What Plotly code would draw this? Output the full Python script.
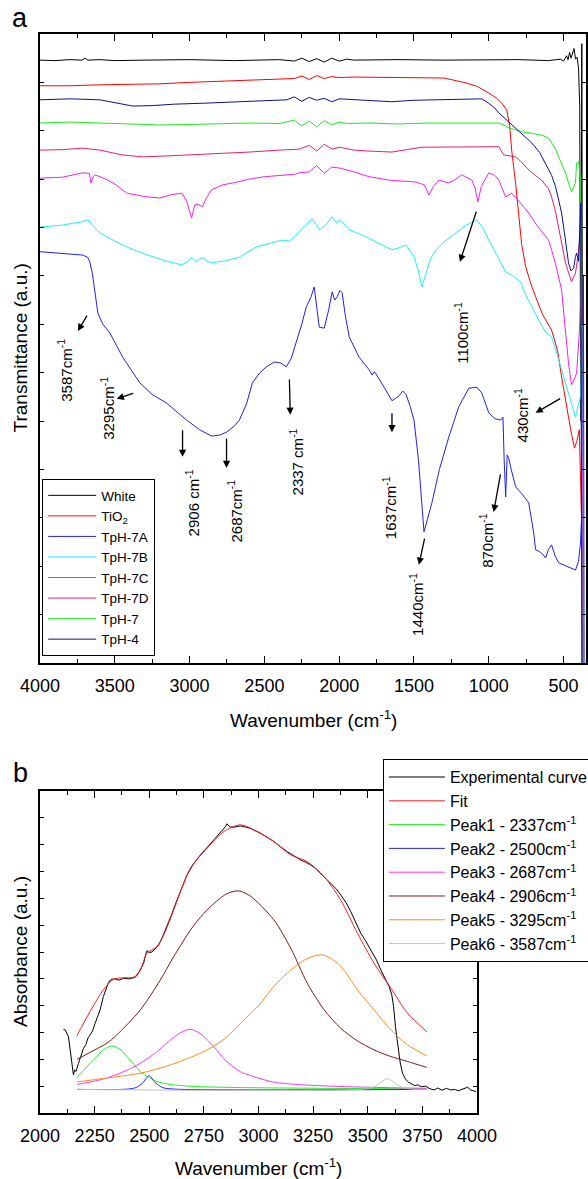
import plotly.graph_objects as go

FONT = "Arial, Liberation Sans, sans-serif"

# ---------------- Panel a : FTIR transmittance (stacked, a.u.) ----------------
WHITE = [(4000, 12.46), (3900, 12.45), (3800, 12.47), (3720, 12.46), (3700, 12.50), (3680, 12.46),
         (3600, 12.47), (3500, 12.45), (3300, 12.46), (3000, 12.47), (2700, 12.45), (2400, 12.47),
         (2300, 12.44), (2250, 12.50), (2200, 12.43), (2150, 12.49), (2100, 12.42), (2050, 12.50),
         (2000, 12.44), (1950, 12.48), (1900, 12.46), (1600, 12.47), (1300, 12.46), (1000, 12.46),
         (800, 12.47), (600, 12.45), (520, 12.48), (500, 12.44), (480, 12.55), (470, 12.47),
         (460, 12.62), (450, 12.50), (440, 12.58), (430, 12.70), (420, 12.48), (410, 12.52),
         (400, 12.30), (392, 11.5), (385, 5.0), (378, 12.8), (370, 0.0), (362, -0.5)]
TIO2 = [(4000, 11.93), (3800, 11.93), (3600, 11.95), (3400, 11.96), (3200, 11.97), (3000, 12.00),
        (2800, 12.02), (2600, 12.04), (2400, 12.06), (2300, 12.08), (2250, 12.13), (2200, 12.06),
        (2150, 12.14), (2100, 12.08), (2050, 12.12), (2000, 12.10), (1900, 12.11), (1700, 12.10),
        (1500, 12.10), (1300, 12.09), (1153, 11.99), (1080, 11.92), (1000, 11.78), (950, 11.68),
        (913, 11.57), (880, 11.43), (860, 11.10), (847, 10.60), (820, 9.90), (800, 9.22),
        (780, 8.65), (753, 8.19), (720, 7.85), (687, 7.57), (640, 7.20), (580, 6.88), (540, 6.45),
        (513, 5.91), (490, 5.45), (467, 5.08), (445, 4.70), (427, 4.44), (410, 4.60), (395, 4.82),
        (380, 3.0), (372, -1.0)]
TPH4 = [(4000, 11.64), (3800, 11.66), (3600, 11.64), (3500, 11.58), (3380, 11.51), (3250, 11.52),
        (3100, 11.55), (2900, 11.57), (2700, 11.60), (2500, 11.62), (2350, 11.64), (2300, 11.70),
        (2250, 11.61), (2200, 11.69), (2150, 11.63), (2100, 11.67), (2050, 11.60), (2000, 11.66),
        (1900, 11.64), (1800, 11.63), (1650, 11.60), (1500, 11.63), (1300, 11.64), (1150, 11.65),
        (1047, 11.66), (1000, 11.57), (960, 11.47), (933, 11.37), (880, 11.22), (820, 11.06),
        (760, 10.90), (713, 10.75), (660, 10.55), (620, 10.33), (580, 10.08), (553, 9.84),
        (533, 9.60), (513, 9.30), (490, 8.80), (467, 8.27), (450, 8.10), (433, 8.16), (420, 8.40),
        (413, 8.47), (400, 8.30), (385, 9.5), (376, -1.0)]
TPH7 = [(4000, 11.16), (3800, 11.18), (3600, 11.16), (3400, 11.14), (3200, 11.12), (3000, 11.13),
        (2800, 11.15), (2600, 11.16), (2400, 11.15), (2300, 11.22), (2250, 11.10), (2200, 11.20),
        (2150, 11.08), (2100, 11.21), (2050, 11.12), (2000, 11.18), (1950, 11.15), (1800, 11.16),
        (1600, 11.14), (1400, 11.16), (1200, 11.16), (1000, 11.16), (933, 11.16), (900, 11.12),
        (867, 11.06), (820, 11.02), (780, 10.98), (700, 10.94), (647, 10.91), (600, 10.85),
        (580, 10.75), (553, 10.62), (533, 10.46), (510, 10.30), (487, 10.13), (465, 9.90),
        (447, 9.74), (430, 9.85), (420, 9.94), (413, 10.33), (400, 10.35), (385, 10.0), (376, -1.0)]
TPH7D = [(4000, 10.60), (3850, 10.61), (3713, 10.64), (3600, 10.60), (3450, 10.50), (3313, 10.46),
         (3150, 10.48), (3000, 10.50), (2800, 10.53), (2600, 10.56), (2400, 10.60), (2267, 10.62),
         (2200, 10.70), (2150, 10.58), (2100, 10.72), (2047, 10.62), (2000, 10.66), (1900, 10.60),
         (1800, 10.58), (1647, 10.56), (1447, 10.66), (1200, 10.67), (1000, 10.67), (933, 10.67),
         (900, 10.50), (870, 10.48), (820, 10.46), (780, 10.35), (733, 10.19), (690, 10.08),
         (647, 9.98), (600, 9.80), (580, 9.63), (555, 9.35), (533, 9.01), (510, 8.65), (487, 8.27),
         (465, 8.05), (447, 7.88), (420, 8.06), (400, 8.5), (385, 9.0), (376, -1.0)]
TPH7C = [(4000, 10.02), (3850, 10.04), (3713, 10.13), (3670, 10.12), (3660, 9.92), (3645, 10.05),
         (3633, 10.09), (3560, 10.00), (3500, 9.90), (3420, 9.71), (3300, 9.64), (3200, 9.61),
         (3120, 9.68), (3053, 9.71), (3020, 9.55), (2987, 9.20), (2965, 9.47), (2945, 9.48),
         (2913, 9.43), (2890, 9.60), (2853, 9.78), (2780, 9.88), (2713, 9.92), (2600, 10.00),
         (2500, 10.05), (2400, 10.08), (2300, 10.10), (2267, 10.13), (2200, 10.15), (2150, 10.28),
         (2100, 10.12), (2050, 10.25), (2000, 10.23), (1900, 10.15), (1800, 10.05), (1667, 9.98),
         (1550, 9.96), (1487, 9.94), (1430, 9.88), (1400, 9.67), (1370, 9.85), (1333, 9.98),
         (1267, 9.92), (1220, 10.00), (1180, 10.09), (1113, 9.98), (1090, 9.80), (1073, 9.53),
         (1050, 9.85), (1000, 10.13), (960, 10.08), (933, 9.98), (887, 9.63), (847, 9.71),
         (800, 9.55), (733, 9.30), (680, 9.05), (600, 8.74), (580, 8.54), (550, 8.20), (513, 7.71),
         (490, 7.00), (467, 6.20), (447, 5.75), (430, 5.85), (413, 5.99), (395, 6.8), (380, 8.0),
         (372, -1.0)]
TPH7B = [(4000, 9.01), (3850, 9.05), (3720, 9.12), (3680, 9.16), (3640, 9.02), (3600, 8.89),
         (3500, 8.72), (3420, 8.60), (3300, 8.45), (3150, 8.30), (3053, 8.23), (3020, 8.28),
         (2987, 8.39), (2960, 8.30), (2940, 8.34), (2913, 8.37), (2880, 8.30), (2853, 8.27),
         (2760, 8.31), (2667, 8.39), (2553, 8.60), (2450, 8.68), (2380, 8.74), (2333, 8.72),
         (2300, 8.80), (2267, 8.92), (2220, 9.05), (2180, 9.18), (2150, 9.05), (2133, 8.95),
         (2090, 9.05), (2047, 9.22), (2020, 9.10), (2000, 9.16), (1970, 9.08), (1933, 8.95),
         (1850, 8.85), (1780, 8.74), (1700, 8.62), (1647, 8.54), (1600, 8.58), (1553, 8.64),
         (1500, 8.40), (1470, 8.10), (1447, 7.77), (1420, 8.05), (1390, 8.35), (1353, 8.54),
         (1300, 8.70), (1220, 8.89), (1150, 9.05), (1080, 9.16), (1040, 9.00), (1000, 8.74),
         (950, 8.45), (887, 8.08), (840, 8.00), (787, 7.88), (760, 7.65), (713, 7.36), (660, 7.05),
         (620, 6.84), (580, 6.74), (550, 6.45), (513, 6.06), (480, 5.70), (447, 5.37), (420, 5.08),
         (400, 5.35), (387, 5.50), (378, 7.0), (370, -1.0)]
TPH7A = [(4000, 8.50), (3850, 8.47), (3713, 8.43), (3680, 8.38), (3667, 8.29), (3650, 8.05),
         (3633, 7.71), (3613, 7.23), (3580, 7.00), (3533, 6.82), (3447, 6.32), (3333, 5.79),
         (3250, 5.55), (3153, 5.37), (3020, 5.02), (2933, 4.82), (2853, 4.69), (2800, 4.71),
         (2753, 4.77), (2700, 4.90), (2667, 5.02), (2620, 5.35), (2580, 5.79), (2530, 6.00),
         (2487, 6.12), (2433, 6.22), (2390, 6.20), (2353, 6.12), (2320, 6.30), (2287, 6.61),
         (2250, 7.00), (2220, 7.36), (2190, 7.55), (2167, 7.77), (2150, 7.40), (2133, 6.94),
         (2100, 6.92), (2070, 7.30), (2047, 7.67), (2030, 7.50), (2013, 7.57), (1995, 7.70),
         (1980, 7.65), (1960, 7.20), (1933, 6.74), (1867, 6.32), (1800, 6.06), (1780, 5.95),
         (1765, 6.02), (1753, 5.97), (1700, 5.70), (1647, 5.42), (1600, 5.52), (1575, 5.62),
         (1553, 5.55), (1525, 5.30), (1500, 5.02), (1470, 4.20), (1433, 2.71), (1410, 2.95),
         (1380, 3.31), (1330, 4.00), (1267, 4.67), (1200, 5.30), (1133, 5.68), (1080, 5.70),
         (1047, 5.58), (1000, 5.17), (960, 5.05), (920, 5.02), (905, 5.08), (897, 4.20),
         (887, 3.43), (877, 4.30), (867, 4.24), (850, 4.00), (820, 3.64), (780, 3.50), (733, 3.31),
         (700, 2.70), (687, 2.34), (660, 2.30), (640, 2.25), (620, 2.17), (600, 2.35), (580, 2.44),
         (555, 2.20), (533, 2.07), (480, 2.00), (440, 1.95), (420, 1.92), (400, 2.10), (387, 2.48),
         (375, 3.31), (367, 8.0), (362, -1.0)]

# legend order, names, colours
NAMES_A = ["White", "TiO<sub>2</sub>", "TpH-7A", "TpH-7B", "TpH-7C", "TpH-7D", "TpH-7", "TpH-4"]
DATA_A = [WHITE, TIO2, TPH7A, TPH7B, TPH7C, TPH7D, TPH7, TPH4]
COLORS_A = ["#000000", "#ff0000", "#2020f0", "#1ff0f0", "#f020f0", "#ea1f6a", "#1ee81e", "#10108a"]

# band labels (text, wavenumber, level) and arrows (tail wn, tail level, head wn, head level)
LABELS_A = [("3587cm<sup>-1</sup>", 3833, 6.06), ("3295cm<sup>-1</sup>", 3547, 5.27),
            ("2906 cm<sup>-1</sup>", 2980, 3.31), ("2687cm<sup>-1</sup>", 2700, 3.14),
            ("2337 cm<sup>-1</sup>", 2287, 4.15), ("1637cm<sup>-1</sup>", 1667, 3.22),
            ("1440cm<sup>-1</sup>", 1480, 1.22), ("870cm<sup>-1</sup>", 1020, 2.54),
            ("430cm<sup>-1</sup>", 780, 5.13), ("1100cm<sup>-1</sup>", 1180, 6.82)]
ARROWS_A = [(3680, 7.21, 3747, 6.86), (3367, 5.58, 3487, 5.46), (3047, 4.84, 3047, 4.26),
            (2753, 4.67, 2753, 4.03), (2333, 5.89, 2327, 5.13), (1647, 5.19, 1647, 4.77),
            (1427, 2.60, 1467, 2.03), (920, 3.93, 967, 3.12), (513, 5.48, 687, 5.17),
            (1080, 9.36, 1193, 8.29)]

# ---------------- Panel b : deconvolution (absorbance, a.u.) ----------------
EXPERIMENTAL = [(2107, 3.12), (2115, 3.10), (2130, 2.85), (2140, 2.30), (2153, 1.42), (2158, 1.60),
                (2165, 1.55), (2176, 1.85), (2190, 2.15), (2199, 2.41), (2210, 2.55), (2220, 2.80),
                (2229, 2.91), (2240, 3.05), (2252, 3.34), (2263, 3.55), (2275, 3.84), (2290, 4.34),
                (2305, 4.70), (2313, 4.86), (2325, 4.98), (2344, 5.00), (2360, 4.95), (2382, 5.02),
                (2410, 5.00), (2436, 5.06), (2450, 5.20), (2459, 5.33), (2475, 5.60), (2485, 5.95),
                (2490, 6.05), (2500, 5.98), (2512, 6.00), (2530, 6.15), (2543, 6.26), (2560, 6.55),
                (2581, 6.95), (2600, 7.35), (2627, 7.94), (2650, 8.40), (2673, 8.87), (2700, 9.25),
                (2734, 9.62), (2765, 9.90), (2795, 10.18), (2820, 10.42), (2849, 10.67), (2855, 10.78),
                (2870, 10.66), (2887, 10.65), (2917, 10.70), (2940, 10.66), (2963, 10.61), (2985, 10.52),
                (3009, 10.43), (3040, 10.27), (3070, 10.12), (3100, 9.93), (3131, 9.74), (3160, 9.60),
                (3193, 9.43), (3215, 9.35), (3238, 9.25), (3260, 9.12), (3284, 8.93), (3310, 8.75),
                (3330, 8.56), (3355, 8.36), (3376, 8.13), (3400, 7.85), (3422, 7.51), (3445, 7.10),
                (3468, 6.70), (3490, 6.42), (3514, 6.08), (3540, 5.70), (3560, 5.33), (3580, 5.00),
                (3598, 4.71), (3610, 4.40), (3618, 3.97), (3627, 3.20), (3636, 2.60), (3648, 1.90),
                (3659, 1.48), (3670, 1.30), (3682, 1.17), (3700, 1.10), (3715, 1.02), (3728, 1.05),
                (3745, 0.98), (3765, 1.00), (3785, 0.90), (3804, 0.86), (3820, 0.93), (3840, 0.85),
                (3860, 0.92), (3880, 0.86), (3896, 0.88), (3915, 0.83), (3935, 0.90), (3957, 0.96),
                (3970, 0.86), (3985, 0.84), (3995, 0.80)]
FIT = [(2168, 2.87), (2229, 3.78), (2290, 4.59), (2336, 4.98), (2381, 5.04), (2428, 5.06),
       (2458, 5.30), (2489, 5.95), (2535, 6.20), (2570, 6.70), (2612, 7.57), (2650, 8.40),
       (2688, 9.12), (2765, 9.87), (2841, 10.49), (2917, 10.74), (2994, 10.49), (3070, 10.12),
       (3147, 9.62), (3223, 9.37), (3300, 8.81), (3376, 7.94), (3453, 6.70), (3529, 5.58),
       (3606, 4.65), (3682, 3.72), (3770, 3.03)]
PEAK1 = [(2170, 1.33), (2245, 1.98), (2290, 2.35), (2329, 2.50), (2370, 2.35), (2398, 2.10),
         (2430, 1.80), (2459, 1.54), (2500, 1.32), (2535, 1.17), (2600, 1.06), (2700, 0.99),
         (2900, 0.95), (3300, 0.92), (3770, 0.90)]
PEAK2 = [(2170, 0.88), (2400, 0.89), (2440, 0.95), (2470, 1.12), (2500, 1.39), (2525, 1.15),
         (2560, 0.95), (2620, 0.89), (3770, 0.88)]
PEAK3 = [(2170, 1.06), (2300, 1.29), (2400, 1.60), (2458, 1.85), (2530, 2.25), (2580, 2.60),
         (2640, 2.98), (2687, 3.12), (2730, 2.98), (2795, 2.48), (2850, 1.95), (2917, 1.54),
         (3000, 1.30), (3070, 1.15), (3200, 1.05), (3300, 1.01), (3500, 0.96), (3770, 0.92)]
PEAK4 = [(2170, 2.00), (2250, 2.35), (2306, 2.60), (2350, 2.90), (2459, 3.84), (2550, 4.95),
         (2612, 5.83), (2700, 6.95), (2765, 7.57), (2850, 8.15), (2906, 8.28), (2960, 8.10),
         (3070, 7.20), (3150, 6.10), (3223, 4.84), (3300, 3.85), (3376, 3.16), (3450, 2.70),
         (3529, 2.35), (3600, 2.12), (3682, 1.92), (3770, 1.70)]
PEAK5 = [(2170, 1.16), (2300, 1.30), (2458, 1.48), (2600, 1.80), (2765, 2.35), (2850, 2.80),
         (2917, 3.34), (3000, 4.00), (3070, 4.71), (3150, 5.35), (3230, 5.78), (3295, 5.89),
         (3373, 5.50), (3453, 4.59), (3529, 3.84), (3606, 3.10), (3682, 2.54), (3770, 2.13)]
PEAK6 = [(2170, 0.88), (3480, 0.89), (3530, 0.98), (3560, 1.15), (3590, 1.28), (3620, 1.15),
         (3650, 0.98), (3700, 0.89), (3770, 0.88)]

NAMES_B = ["Experimental curve", "Fit", "Peak1 - 2337cm<sup>-1</sup>", "Peak2 - 2500cm<sup>-1</sup>",
           "Peak3 - 2687cm<sup>-1</sup>", "Peak4 - 2906cm<sup>-1</sup>", "Peak5 - 3295cm<sup>-1</sup>",
           "Peak6 - 3587cm<sup>-1</sup>"]
DATA_B = [EXPERIMENTAL, FIT, PEAK1, PEAK2, PEAK3, PEAK4, PEAK5, PEAK6]
COLORS_B = ["#000000", "#ff2020", "#22ee22", "#2222ee", "#ff33ff", "#801818", "#ff8c1a", "#c0c0c0"]
SHAPES_B = ["linear", "spline", "spline", "spline", "spline", "spline", "spline", "spline"]

fig = go.Figure()

for name, data, color in zip(NAMES_A, DATA_A, COLORS_A):
    wn, val = zip(*data)
    fig.add_trace(go.Scatter(x=list(wn), y=list(val), mode="lines", name=name,
                             line=dict(color=color, width=1), xaxis="x", yaxis="y",
                             legend="legend", cliponaxis=True))

for name, data, color, shp in zip(NAMES_B, DATA_B, COLORS_B, SHAPES_B):
    wn, val = zip(*data)
    fig.add_trace(go.Scatter(x=list(wn), y=list(val), mode="lines", name=name,
                             line=dict(color=color, width=1, shape=shp, smoothing=0.8),
                             xaxis="x2", yaxis="y2", legend="legend2"))

axis_common = dict(showline=True, linecolor="black", linewidth=1.5, mirror="ticks",
                   ticks="inside", tickcolor="black", tickwidth=1.2, showgrid=False,
                   zeroline=False, tickfont=dict(family=FONT, size=18, color="black"))

ann = []
for text, wn, lvl in LABELS_A:
    ann.append(dict(x=wn, y=lvl, xref="x", yref="y", text=text, showarrow=False, textangle=-90,
                    font=dict(family=FONT, size=15, color="black"), xanchor="center", yanchor="middle"))
for tw, tl, hw, hl in ARROWS_A:
    ann.append(dict(x=hw, y=hl, ax=tw, ay=tl, xref="x", yref="y", axref="x", ayref="y", text="",
                    showarrow=True, arrowhead=2, arrowsize=1.1, arrowwidth=1.3, arrowcolor="black"))

ann += [
    dict(x=-0.0366, y=1.0148, xref="paper", yref="paper", text="a", showarrow=False,
         font=dict(family=FONT, size=27, color="black"), xanchor="center", yanchor="middle"),
    dict(x=-0.0366, y=0.3151, xref="paper", yref="paper", text="b", showarrow=False,
         font=dict(family=FONT, size=27, color="black"), xanchor="center", yanchor="middle"),
    dict(x=-0.0366, y=0.7086, xref="paper", yref="paper", text="Transmittance (a.u.)", showarrow=False,
         textangle=-90, font=dict(family=FONT, size=19, color="black"), xanchor="center", yanchor="middle"),
    dict(x=-0.0366, y=0.1492, xref="paper", yref="paper", text="Absorbance (a.u.)", showarrow=False,
         textangle=-90, font=dict(family=FONT, size=19, color="black"), xanchor="center", yanchor="middle"),
    dict(x=0.5, y=0.365, xref="paper", yref="paper", text="Wavenumber (cm<sup>-1</sup>)", showarrow=False,
         font=dict(family=FONT, size=19, color="black"), xanchor="center", yanchor="middle"),
    dict(x=0.4002, y=-0.050, xref="paper", yref="paper", text="Wavenumber (cm<sup>-1</sup>)", showarrow=False,
         font=dict(family=FONT, size=19, color="black"), xanchor="center", yanchor="middle"),
]

fig.update_layout(
    width=588, height=1179,
    margin=dict(l=40, r=2, t=34, b=66, autoexpand=False),
    paper_bgcolor="white", plot_bgcolor="white",
    font=dict(family=FONT, size=18, color="black"),
    showlegend=True,
    xaxis=dict(domain=[0, 1], range=[4000, 350], anchor="y", tick0=0, dtick=500, ticklen=7,
               minor=dict(ticks="inside", dtick=250, ticklen=4, tickcolor="black", showgrid=False),
               ticklabelstandoff=6, **axis_common),
    yaxis=dict(domain=[0.4171, 1], range=[0, 13], anchor="x", tick0=0, dtick=1, ticklen=4,
               showticklabels=False, **axis_common),
    xaxis2=dict(domain=[0, 0.8004], range=[2000, 4000], anchor="y2", tick0=0, dtick=250, ticklen=7,
                minor=dict(ticks="inside", dtick=125, ticklen=4, tickcolor="black", showgrid=False),
                ticklabelstandoff=6, **axis_common),
    yaxis2=dict(domain=[0, 0.2984], range=[0, 12], anchor="x2", tick0=0, dtick=1, ticklen=4,
                showticklabels=False, **axis_common),
    legend=dict(x=0.004, y=0.4235, xanchor="left", yanchor="bottom", bordercolor="black", borderwidth=1,
                bgcolor="white", font=dict(family=FONT, size=13.5, color="black"), tracegroupgap=0,
                itemwidth=48),
    legend2=dict(x=0.628, y=0.328, xanchor="left", yanchor="top", bordercolor="black", borderwidth=1,
                 bgcolor="white", font=dict(family=FONT, size=16, color="black"), tracegroupgap=0,
                 itemwidth=56),
    annotations=ann,
)

fig.write_html("out.html")
